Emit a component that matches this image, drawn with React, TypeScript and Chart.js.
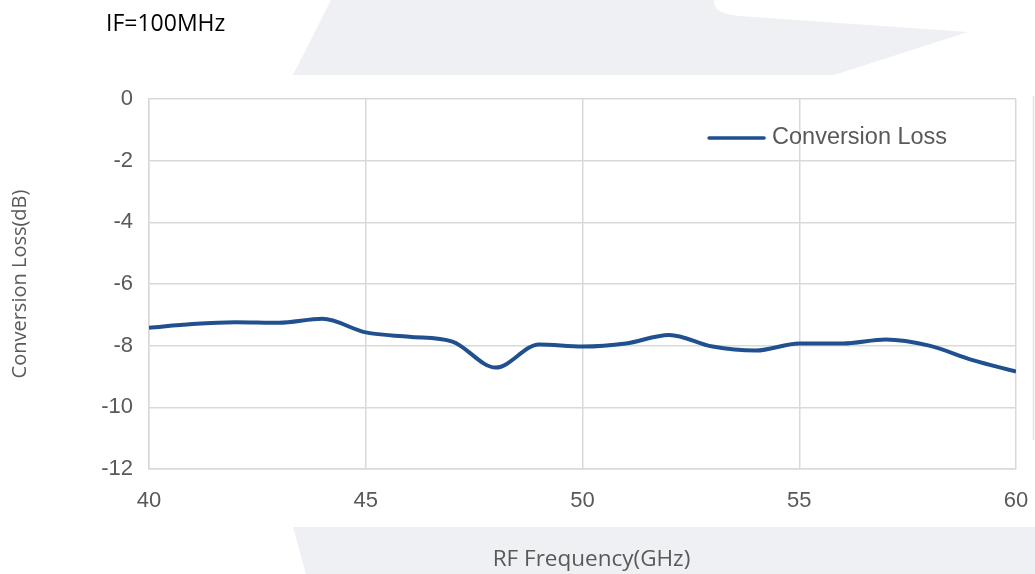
import React, { useEffect, useRef } from "react";
import { Chart, registerables } from "chart.js";

Chart.register(...registerables);

const frequencies = [40, 41, 42, 43, 44, 45, 46, 47, 48, 49, 50, 51, 52, 53, 54, 55, 56, 57, 58, 59, 60];
const conversionLoss = [-7.42, -7.3, -7.24, -7.26, -7.13, -7.57, -7.71, -7.87, -8.71, -7.96, -8.03, -7.93, -7.65, -8.03, -8.16, -7.93, -7.93, -7.8, -8.0, -8.47, -8.84];
const xTicks = [40, 45, 50, 55, 60];
const yTicks = [0, -2, -4, -6, -8, -10, -12];
const seriesName = "Conversion Loss";
const subtitle = "IF=100MHz";
const xTitle = "RF Frequency(GHz)";
const yTitle = "Conversion Loss(dB)";

const LINE_COLOR = "#21508f";
const GRID = "#d9d9d9";
const TICK_COLOR = "#595959";
const WATERMARK = "#eff0f4";

const decorPlugin = {
  id: "decor",
  beforeDraw(chart: any) {
    const ctx = chart.ctx;
    ctx.save();
    ctx.fillStyle = "#ffffff";
    ctx.fillRect(0, 0, chart.width, chart.height);
    ctx.fillStyle = WATERMARK;
    ctx.beginPath();
    ctx.moveTo(331, 0);
    ctx.lineTo(714, 0);
    ctx.quadraticCurveTo(712, 14, 740, 16);
    ctx.lineTo(968, 32);
    ctx.lineTo(834, 75);
    ctx.lineTo(293, 75);
    ctx.closePath();
    ctx.fill();
    ctx.beginPath();
    ctx.moveTo(293, 527);
    ctx.lineTo(1035, 527);
    ctx.lineTo(1035, 574);
    ctx.lineTo(306, 574);
    ctx.closePath();
    ctx.fill();
    ctx.strokeStyle = "#e3e3e3";
    ctx.lineWidth = 1.5;
    ctx.beginPath();
    ctx.moveTo(1033.5, 96);
    ctx.lineTo(1033.5, 440);
    ctx.stroke();
    ctx.fillStyle = "#000000";
    ctx.font = "23px 'Open Sans'";
    ctx.textBaseline = "middle";
    ctx.textAlign = "left";
    ctx.fillText(subtitle, 106, 24);
    ctx.restore();
  },
  afterDraw(chart: any) {
    const ctx = chart.ctx;
    const a = chart.chartArea;
    const lx = a.left + (a.right - a.left) * 0.646;
    const ly = a.top + 39;
    ctx.save();
    ctx.strokeStyle = LINE_COLOR;
    ctx.lineWidth = 3.5;
    ctx.lineCap = "round";
    ctx.beginPath();
    ctx.moveTo(lx, ly);
    ctx.lineTo(lx + 55, ly);
    ctx.stroke();
    ctx.fillStyle = TICK_COLOR;
    ctx.font = "23.5px 'Liberation Sans'";
    ctx.textBaseline = "middle";
    ctx.textAlign = "left";
    ctx.fillText(seriesName, lx + 63, ly);
    ctx.font = "22.5px 'Open Sans'";
    ctx.textAlign = "center";
    ctx.fillText(xTitle, (a.left + a.right) / 2 + 9, 560);
    ctx.restore();
  },
};

export default function App() {
  const ref = useRef<HTMLCanvasElement>(null);
  useEffect(() => {
    document.body.style.margin = "0";
    const chart = new Chart(ref.current!, {
      type: "line",
      data: {
        datasets: [
          {
            label: seriesName,
            data: frequencies.map((f, i) => ({ x: f, y: conversionLoss[i] })),
            borderColor: LINE_COLOR,
            backgroundColor: LINE_COLOR,
            borderWidth: 4,
            pointRadius: 0,
            tension: 0.4,
            cubicInterpolationMode: "monotone",
          },
        ],
      },
      options: {
        animation: false,
        responsive: false,
        layout: { padding: { top: 99, right: 19, left: 0, bottom: 0 } },
        plugins: { legend: { display: false }, tooltip: { enabled: false } },
        scales: {
          x: {
            type: "linear",
            min: 40,
            max: 60,
            afterBuildTicks: (s: any) => {
              s.ticks = xTicks.map((v) => ({ value: v }));
            },
            afterFit: (s: any) => {
              s.height = 105;
              s.paddingLeft = 0;
              s.paddingRight = 0;
            },
            grid: { color: GRID, lineWidth: 1.5, drawTicks: false },
            border: { color: GRID, width: 1.5 },
            ticks: {
              color: TICK_COLOR,
              font: { family: "'Liberation Sans'", size: 22 },
              padding: 19,
              maxRotation: 0,
            },
            title: { display: false, text: xTitle },
          },
          y: {
            min: -12,
            max: 0,
            afterBuildTicks: (s: any) => {
              s.ticks = yTicks.map((v) => ({ value: v }));
            },
            afterFit: (s: any) => {
              s.width = 149;
              s.paddingTop = 0;
              s.paddingBottom = 0;
            },
            grid: { color: GRID, lineWidth: 1.5, drawTicks: false },
            border: { color: GRID, width: 1.5 },
            ticks: {
              color: TICK_COLOR,
              font: { family: "'Liberation Sans'", size: 22 },
              padding: 16,
            },
            title: {
              display: true,
              text: yTitle,
              color: TICK_COLOR,
              font: { family: "'Open Sans'", size: 20 },
              padding: { top: 8, bottom: 0 },
            },
          },
        },
      },
      plugins: [decorPlugin],
    } as any);
    return () => chart.destroy();
  }, []);
  return <canvas ref={ref} width={1035} height={574} style={{ display: "block" }} />;
}
